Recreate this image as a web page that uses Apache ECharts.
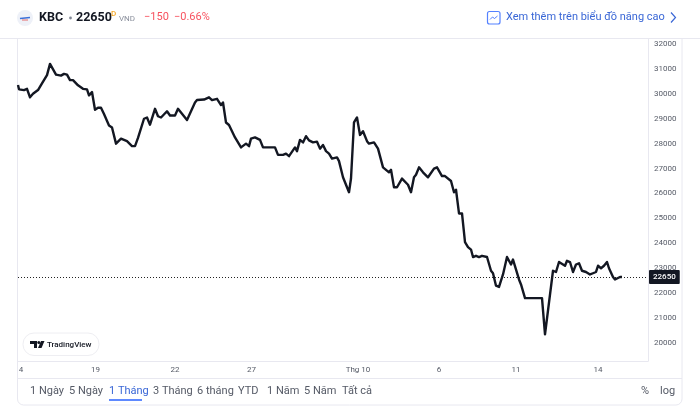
<!DOCTYPE html>
<html><head><meta charset="utf-8">
<style>html,body{margin:0;padding:0;background:#fff}#c{width:700px;height:419px}</style>
<script src="https://cdn.jsdelivr.net/npm/echarts@6/dist/echarts.min.js"></script>
</head><body><div id="c"></div>
<script>
// Bar position along the time axis and close price (VND)
const barPos = [0,1,3,6,9,12,15,20,24,29,32,38,40,43,46,49,52,55,60,65,69,71,74,77,80,83,86,91,94,98,100,103,105,109,114,117,120,122,126,129,132,137,140,143,149,152,157,160,164,
169,177,179,186,191,194,199,203,205,208,211,217,219,223,228,231,233,237,242,245,257,260,265,268,271,273,277,279,282,285,288,291,295,299,302,305,308,311,314,319,321,
325,327,331,333,336,339,342,345,349,351,356,360,362,365,367,371,373,376,379,384,390,393,396,398,401,405,410,416,419,424,427,433,436,438,441,444,447,450,453,
455,458,461,464,469,473,475,478,481,485,489,493,495,501,503,507,524,527,535,538,541,543,547,549,552,555,558,561,564,568,572,575,578,580,583,586,589,591,595,597,602,604];
const closes = [30350,30180,30260,30150,30200,29860,30000,30150,30420,30750,31200,30770,30800,30730,30800,30770,30550,30550,30340,30200,30180,29940,30070,29360,29440,29440,29190,28730,28650,28000,27950,28200,28120,28100,27900,27900,28230,28300,29000,29050,28760,29400,29100,29050,29300,29130,29130,29400,29200,
28950,29650,29750,29770,29860,29750,29800,29550,29650,28850,28750,28250,28250,27850,28000,27900,28200,28250,28150,27850,27850,27550,27550,27600,27500,27500,27850,27700,28150,28050,28300,28130,28050,28080,27800,27950,27700,27600,27400,27450,27300,
26650,26650,26050,26600,28850,29050,28350,28500,28100,28000,28050,27800,27750,27050,27050,26850,26950,26250,26250,26600,26350,26050,26650,26750,27050,26850,26650,27000,27050,26700,26700,26500,26050,26150,25200,25200,24050,23850,23750,
23450,23500,23450,23500,23450,22900,22800,22300,22250,22750,23450,23150,23350,22550,22350,21800,21800,20350,22900,22850,23250,23300,23100,23300,23250,22850,23150,23200,22900,22850,22750,22800,22850,23100,23000,23100,23250,23000,22650,22550,22650,22650];
const lastPrice = 22650;
const xTickPos = [3,77.5,157,233.5,340,421,498,580];
const xTickLabels = ['4','19','22','27','Thg 10','6','11','14'];
const yTicks = [20000,21000,22000,23000,24000,25000,26000,27000,28000,29000,30000,31000,32000];
const rangeLabels = ['1 Ngày','5 Ngày','1 Tháng','3 Tháng','6 tháng','YTD','1 Năm','5 Năm','Tất cả'];
const rangeX = [30,69,109,153,197,238,267,304,342];

const font = 'Roboto, sans-serif';
const border = '#e8e8f0';
const T = (x,y,text,size,fill,weight,extra) => ({type:'text',x,y,silent:true,style:Object.assign({text,fontSize:size,fill,fontFamily:font,fontWeight:weight||'normal',textVerticalAlign:'middle',textAlign:'left'},extra||{})});
const L = (x1,y1,x2,y2,stroke,w) => ({type:'line',silent:true,shape:{x1,y1,x2,y2},style:{stroke,lineWidth:w||1}});

const graphics = [
  {type:'rect',silent:true,shape:{x:17.5,y:20,width:664.5,height:385,r:6},style:{fill:'none',stroke:border,lineWidth:1}},
  {type:'rect',silent:true,shape:{x:0,y:0,width:700,height:38},style:{fill:'#fff'}},
  L(0,38.5,700,38.5,border),
  L(18,378.5,682,378.5,border),
  {type:'circle',silent:true,shape:{cx:25,cy:18,r:8},style:{fill:'#eef1f8'}},
  L(20,18.5,30,17.5,'#3b6fd8',1.5),
  L(22,20,28,20,'#e46a6a',1),
  T(39,17.5,'KBC',12.5,'#131722',700),
  {type:'circle',silent:true,shape:{cx:70.5,cy:18,r:1.4},style:{fill:'#808694'}},
  T(76,17.5,'22650',12.5,'#131722',700),
  T(111,14,'D',8,'#f5a623',500),
  T(119,18.5,'VND',8,'#8a8f9c'),
  T(144,17.5,'\u2212150',11,'#f7525f'),
  T(174,17.5,'\u22120.66%',11,'#f7525f'),
  {type:'rect',silent:true,shape:{x:487.5,y:11.5,width:12.5,height:12.5,r:2},style:{fill:'none',stroke:'#2962ff',lineWidth:1.2,opacity:.8}},
  {type:'polyline',silent:true,shape:{points:[[490,19.5],[492.5,17],[494.5,18.5],[497.5,16]]},style:{fill:'none',stroke:'#2962ff',lineWidth:1,opacity:.8}},
  T(506,17.5,'Xem thêm trên biểu đồ năng cao',11,'#3a67d6'),
  {type:'polyline',silent:true,shape:{points:[[671,12.5],[675.5,17.5],[671,22.5]]},style:{fill:'none',stroke:'#3a67d6',lineWidth:1.2}},
  {type:'rect',silent:true,shape:{x:23,y:333,width:76,height:22.5,r:11},style:{fill:'#fff',stroke:'#eeeef2',lineWidth:1}},
  {type:'polygon',silent:true,shape:{points:[[30,341],[37,341],[37,348],[34,348],[34,344],[30,344]]},style:{fill:'#131722'}},
  {type:'circle',silent:true,shape:{cx:38.8,cy:342.5,r:1.5},style:{fill:'#131722'}},
  {type:'polygon',silent:true,shape:{points:[[41,341],[44.5,341],[41.5,348],[38,348]]},style:{fill:'#131722'}},
  T(47,344.5,'TradingView',8,'#131722',500),
  L(109,400,142,400,'#2962ff',1.6),
  T(641,391.5,'%',11,'#555a66'),
  T(660,391.5,'log',11,'#555a66')
];
rangeLabels.forEach((s,i)=>graphics.push(T(rangeX[i],391.5,s,11,i===2?'#3a67d6':'#555a66')));

const chart = echarts.init(document.getElementById('c'),null,{renderer:'canvas'});
chart.setOption({
  animation:false,
  backgroundColor:'#fff',
  grid:{left:18,right:52,top:38.5,bottom:58,show:false},
  xAxis:{type:'value',min:0,max:630,
    axisLine:{show:true,onZero:false,lineStyle:{color:border}},
    axisTick:{show:false},splitLine:{show:false},
    axisLabel:{customValues:xTickPos,color:'#555a66',fontSize:8,fontFamily:font,margin:5,hideOverlap:false,showMinLabel:true,
      formatter:v=>xTickLabels[xTickPos.indexOf(v)]||''}},
  yAxis:{type:'value',position:'right',min:19278,max:32220,
    axisLine:{show:true,onZero:false,lineStyle:{color:border}},
    axisTick:{show:false},splitLine:{show:false},
    axisLabel:{customValues:yTicks,color:'#555a66',fontSize:8,fontFamily:font,margin:6,formatter:v=>String(v)}},
  series:[{type:'line',data:barPos.map((t,i)=>[t,closes[i]]),showSymbol:false,smooth:false,clip:true,
    lineStyle:{color:'#131722',width:2.4,join:'round'},
    markLine:{silent:true,symbol:'none',animation:false,
      lineStyle:{color:'#222',width:1,type:[1,2]},
      label:{show:true,position:'end',distance:1,formatter:()=>String(lastPrice),color:'#fff',backgroundColor:'#131722',fontSize:8,fontWeight:500,fontFamily:font,padding:[3,4,3,4],borderRadius:1},
      data:[{yAxis:lastPrice}]}}],
  graphic:{elements:graphics}
});
</script></body></html>
